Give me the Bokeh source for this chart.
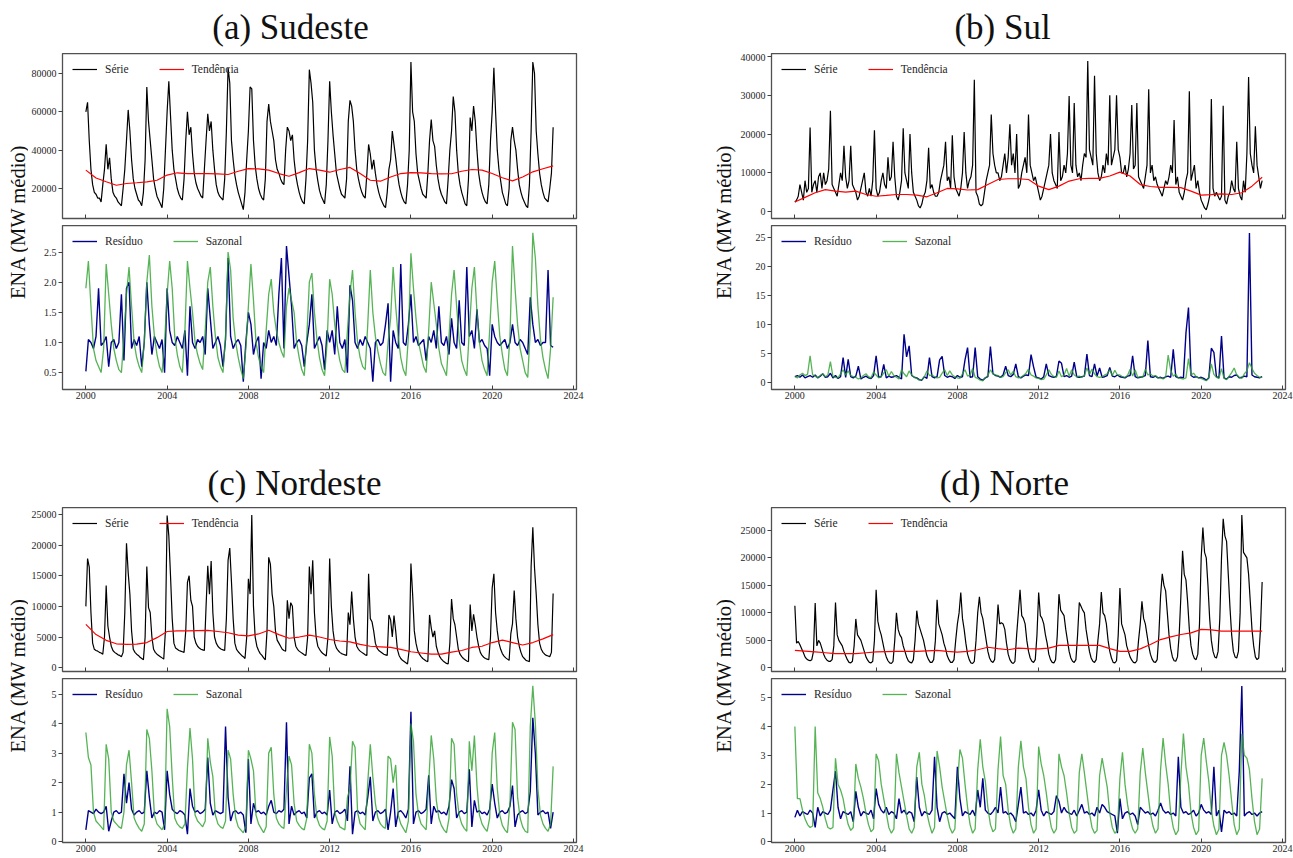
import math
import numpy as np
from bokeh.plotting import figure
from bokeh.layouts import row, column
from bokeh.models import (Range1d, FixedTicker, Label, Legend, LegendItem, Spacer,
                          BasicTickFormatter, NumeralTickFormatter)
from bokeh.embed import file_html
from bokeh.resources import INLINE

# ---------------------------------------------------------------- data
years = list(range(2000, 2023))
t_month = [y + m / 12 for y in years for m in range(12)] + [2023.0]   # série grid
t = [y + k / 8 for y in years for k in range(8)] + [2023.0]           # resíduo / sazonal grid
t_trend = [2000 + 0.5 * i for i in range(47)]                         # tendência grid
x_ticks = [2000, 2004, 2008, 2012, 2016, 2020, 2024]

titles = ["(a) Sudeste", "(b) Sul", "(c) Nordeste", "(d) Norte"]
y_label = "ENA (MW médio)"
legend_top = ["Série", "Tendência"]
legend_bottom = ["Resíduo", "Sazonal"]

# ---- Sudeste (série / tendência in thousand MW, série monthly Jan..Dec)
se_serie_k = [
    60, 65, 45, 30, 22, 18, 17, 15, 15, 13, 22, 30,
    43, 30, 36, 25, 18, 16, 15, 13, 12, 11, 20, 30,
    45, 61, 50, 35, 25, 20, 17, 14, 13, 11, 18, 35,
    73, 55, 45, 35, 25, 20, 16, 14, 12, 10, 20, 40,
    60, 76, 58, 40, 30, 25, 20, 17, 15, 14, 25, 45,
    60, 48, 52, 38, 28, 23, 20, 18, 16, 15, 30, 45,
    59, 50, 55, 40, 30, 22, 18, 16, 15, 14, 25, 50,
    83, 75, 45, 35, 27, 22, 18, 15, 12, 9, 18, 35,
    50, 73, 72, 45, 32, 25, 20, 17, 15, 14, 25, 55,
    64, 55, 50, 45, 35, 30, 28, 25, 23, 22, 40, 52,
    50, 45, 48, 35, 27, 22, 18, 15, 13, 12, 25, 45,
    82, 75, 65, 40, 30, 24, 19, 16, 14, 12, 22, 45,
    76, 60, 48, 38, 28, 24, 20, 17, 16, 15, 25, 55,
    66, 63, 55, 40, 30, 25, 21, 18, 16, 15, 28, 43,
    38, 30, 35, 28, 22, 18, 15, 13, 11, 10, 18, 30,
    35, 50, 43, 36, 28, 22, 18, 15, 13, 12, 22, 40,
    86, 60, 55, 38, 28, 24, 20, 17, 16, 15, 28, 45,
    56, 45, 42, 32, 25, 20, 17, 15, 13, 12, 25, 40,
    50, 68, 60, 40, 28, 22, 18, 15, 12, 11, 25, 57,
    50, 63, 55, 40, 28, 22, 18, 15, 13, 12, 22, 45,
    60, 83, 60, 40, 30, 24, 18, 15, 12, 11, 20, 45,
    52, 45, 40, 30, 22, 18, 15, 13, 11, 10, 22, 50,
    86, 80, 50, 38, 28, 22, 18, 15, 14, 13, 20, 28,
    52]
se_trend_k = [
    29.6, 25.5, 23.5, 21.7, 22.6, 23.0, 23.5, 24.3, 27.0, 28.2,
    27.8, 27.8, 27.8, 27.6, 27.3, 29.0, 30.4, 30.2, 29.6, 27.8,
    26.4, 28.3, 30.4, 29.6, 28.5, 29.9, 31.0, 27.8, 24.3, 23.8,
    26.0, 27.8, 28.3, 28.2, 27.8, 27.6, 27.7, 29.0, 29.9, 29.6,
    27.8, 25.6, 24.0, 26.0, 28.7, 30.3, 31.8]
se_resid = [
    0.52, 1.05, 1.0, 0.9, 1.1, 1.9, 0.95, 1.0,
    1.1, 0.6, 1.0, 1.05, 0.9, 1.0, 1.8, 0.7,
    1.9, 2.0, 0.9, 1.05, 0.95, 1.1, 0.6, 1.0,
    2.0, 1.3, 0.8, 1.1, 1.0, 0.9, 1.05, 0.5,
    1.9, 1.2, 1.0, 0.95, 1.1, 1.0, 0.9, 1.2,
    0.45, 1.6, 1.0, 0.9, 1.05, 1.0, 1.1, 0.8,
    1.9, 1.4, 0.9, 1.0, 1.1, 0.95, 0.6, 1.05,
    2.4, 1.1, 0.9, 1.0, 1.05, 0.95, 0.35, 1.0,
    1.5, 1.3, 0.8, 1.0, 1.1, 0.4, 1.0, 0.9,
    1.2, 1.0, 1.1, 0.95, 1.8, 2.4, 0.9, 2.6,
    2.1, 1.6, 0.9, 1.0, 1.05, 0.95, 0.6, 1.0,
    1.3, 1.8, 0.9, 1.0, 1.1, 0.95, 0.55, 1.2,
    1.0, 1.2, 0.8, 1.6, 1.0, 0.9, 1.05, 0.5,
    1.95, 1.7, 1.0, 0.9, 1.05, 0.95, 1.1, 1.0,
    0.9, 0.35, 1.0, 1.05, 0.95, 1.0, 1.3, 1.65,
    0.35, 1.2, 1.0, 0.9, 2.3, 1.0, 0.95, 1.3,
    1.8, 1.0, 1.1, 0.95, 1.0, 1.05, 0.7, 1.1,
    1.0, 1.2, 0.9, 1.6, 1.0, 0.95, 1.1, 0.8,
    1.4, 1.0, 0.9, 1.7, 1.0, 0.95, 2.25, 1.1,
    1.2, 0.9, 1.55, 1.0, 1.05, 0.95, 0.9, 0.45,
    1.3, 1.1, 1.0, 0.95, 1.0, 1.05, 0.9, 1.0,
    1.3, 1.0, 0.95, 1.05, 1.0, 0.9, 0.8, 1.75,
    1.3, 1.0, 1.05, 0.95, 1.0, 1.0, 2.2, 0.95,
    0.92]
se_sazonal = [
    1.9, 2.35, 1.6, 0.9, 0.7, 0.6, 0.5, 0.9,
    2.3, 1.8, 1.3, 0.9, 0.7, 0.55, 0.5, 1.1,
    1.8, 2.25, 1.6, 1.0, 0.75, 0.6, 0.5, 1.0,
    2.0, 2.45, 1.6, 1.1, 0.8, 0.6, 0.5, 1.0,
    1.8, 2.35, 1.9, 1.1, 0.8, 0.6, 0.5, 1.2,
    2.35, 1.9, 1.5, 1.0, 0.8, 0.65, 0.55, 1.2,
    2.0, 2.25, 1.6, 1.1, 0.75, 0.6, 0.5, 1.1,
    2.5, 2.2, 1.4, 1.0, 0.75, 0.55, 0.4, 0.9,
    1.6, 2.3, 1.7, 1.0, 0.75, 0.6, 0.5, 1.2,
    1.8, 2.05, 1.5, 1.2, 1.0, 0.85, 0.75, 1.6,
    1.9, 1.7, 1.5, 1.0, 0.75, 0.55, 0.45, 1.1,
    2.0, 2.15, 1.5, 1.05, 0.75, 0.55, 0.45, 1.0,
    2.05, 1.8, 1.3, 0.95, 0.7, 0.55, 0.5, 1.2,
    1.8, 2.2, 1.5, 1.0, 0.75, 0.6, 0.55, 1.3,
    2.2, 1.5, 1.1, 0.85, 0.65, 0.5, 0.45, 1.0,
    1.4, 2.25, 1.6, 1.1, 0.75, 0.55, 0.45, 1.1,
    2.48, 1.9, 1.4, 1.0, 0.8, 0.6, 0.5, 1.2,
    2.0, 1.65, 1.3, 0.9, 0.65, 0.55, 0.45, 1.1,
    1.8, 2.2, 1.6, 1.05, 0.7, 0.55, 0.45, 1.2,
    1.9, 2.25, 1.5, 1.0, 0.7, 0.55, 0.45, 1.2,
    2.0, 2.35, 1.7, 1.1, 0.8, 0.55, 0.45, 1.1,
    2.6, 1.9, 1.3, 0.9, 0.7, 0.5, 0.42, 1.2,
    2.82, 2.4, 1.6, 1.05, 0.75, 0.55, 0.4, 0.9,
    1.75]

# ---- Sul
s_serie_k = [
    2.5, 3, 4, 7, 5, 3, 8, 5, 6, 21.7, 5, 7,
    8, 5, 9, 10, 6, 10, 7, 8, 11, 26, 7, 6,
    5, 4, 7, 10, 8, 17, 9, 6, 8, 17, 7, 6,
    5, 3, 4, 6, 8, 10, 5, 4, 6, 4, 8, 21,
    6, 4, 5, 8, 10, 7, 6, 14, 8, 9, 18, 9,
    4, 3, 5, 8, 21.5, 10, 8, 6, 20, 10, 5, 4,
    3, 1.5, 1, 2, 4, 5, 8, 16.5, 6, 7, 5, 4,
    4, 5, 8, 10, 12, 18, 8, 9, 6, 19.7, 9, 6,
    5, 4, 6, 10, 20.5, 10, 6, 8, 9, 12, 34, 5,
    4, 2, 1.5, 2, 5, 8, 10, 12, 25, 15, 12, 10,
    10, 8, 9, 12, 15, 10, 14, 22.5, 12, 15, 10, 20,
    6, 7, 10, 12, 14, 10, 25, 12, 10, 8, 9, 7,
    5, 3, 4, 6, 8, 10, 12, 20, 10, 8, 7, 6,
    20.5, 8, 9, 12, 10, 15, 29.8, 12, 10, 28, 12, 9,
    10, 8, 12, 15, 14, 38.8, 16, 14, 12, 35, 15, 10,
    8, 9, 12, 10, 15, 12, 30, 12, 14, 16, 30, 16,
    14, 10, 10, 12, 9, 11, 15, 27.5, 11, 12, 28, 9,
    8, 7, 6, 9, 12, 31.5, 10, 12, 8, 9, 7, 6,
    5, 4, 6, 8, 7, 9, 12, 10, 23.6, 7, 9, 5,
    4, 3, 5, 8, 10, 31, 8, 10, 12, 6, 8, 5,
    3, 2, 1, 0.5, 2, 4, 29, 6, 4, 5, 4, 3,
    4, 27.3, 3, 2, 4, 5, 8, 6, 5, 18, 6, 4,
    3, 8, 5, 15, 34.7, 15, 12, 10, 22, 12, 9, 6,
    8]
s_trend_k = [
    2.5, 3.7, 4.9, 5.7, 5.3, 5.05, 5.3, 4.45, 4.0, 4.2,
    4.45, 4.45, 4.3, 3.85, 4.9, 6.0, 5.9, 5.6, 5.7, 7.0,
    8.3, 8.5, 8.5, 8.3, 6.6, 5.7, 6.6, 7.9, 8.5, 8.6,
    8.6, 9.2, 10.2, 9.2, 7.0, 6.5, 6.3, 6.3, 6.2, 5.3,
    4.3, 4.4, 4.6, 4.45, 4.9, 6.6, 8.9]
s_resid = [
    1.0, 1.2, 0.9, 1.3, 0.8, 1.0, 1.2, 0.9,
    1.3, 0.8, 1.1, 1.5, 0.9, 1.0, 1.6, 0.8,
    1.2, 0.7, 1.0, 4.3, 0.9, 4.0, 1.0, 0.8,
    1.1, 2.8, 0.6, 0.9, 1.1, 0.8, 0.7, 1.2,
    4.6, 0.9, 1.0, 3.1, 0.8, 1.1, 0.9, 1.0,
    1.2, 0.9, 0.6, 8.3, 4.4, 6.3, 1.2, 0.9,
    0.8, 0.5, 0.4, 1.0, 0.7, 4.3, 1.0, 0.8,
    1.0, 3.9, 4.5, 1.2, 0.9, 1.1, 1.0, 0.7,
    1.2, 0.9, 1.0, 3.9, 6.0, 0.9, 1.0, 6.0,
    1.0, 0.6, 0.4, 0.8, 1.0, 6.2, 1.5, 1.2,
    1.1, 0.9, 1.3, 2.8, 1.2, 1.0, 1.4, 3.2,
    1.0, 0.8, 1.1, 1.3, 1.2, 4.8, 2.7, 0.9,
    0.8, 0.6, 1.0, 3.2, 1.2, 1.0, 0.9, 1.1,
    3.7, 3.3, 1.0, 1.2, 0.9, 1.1, 3.5, 1.0,
    0.9, 1.0, 1.1, 4.9, 1.2, 1.0, 3.2, 1.1,
    2.5, 0.9, 1.0, 1.2, 2.6, 1.1, 1.0, 1.3,
    1.0, 0.9, 0.8, 1.1, 1.2, 4.6, 1.0, 0.8,
    0.9, 1.0, 1.2, 7.2, 1.0, 0.9, 1.1, 0.8,
    0.9, 0.7, 1.0, 1.1, 0.9, 5.7, 1.0, 0.8,
    0.9, 0.8, 8.5, 12.9, 1.2, 0.9, 1.0, 0.8,
    0.9, 0.7, 0.4, 0.8, 5.9, 5.2, 1.0, 0.8,
    8.0, 0.8, 0.6, 1.0, 0.9, 1.2, 1.3, 0.8,
    0.9, 1.1, 1.0, 25.7, 1.3, 1.0, 0.9, 0.8,
    1.0]
s_sazonal = [
    1.0, 0.8, 1.3, 1.6, 1.2, 1.4, 4.6, 1.3,
    1.1, 0.8, 1.2, 1.5, 1.0, 1.3, 3.6, 1.0,
    0.9, 0.8, 1.5, 2.2, 1.3, 2.0, 1.2, 1.0,
    0.9, 0.6, 0.8, 1.2, 1.5, 1.0, 0.8, 1.8,
    1.3, 0.8, 1.0, 1.6, 2.2, 1.1, 1.9, 1.2,
    0.9, 0.6, 2.2, 1.5, 1.0, 2.0, 1.3, 0.9,
    0.7, 0.4, 0.5, 1.0, 2.0, 1.2, 1.3, 1.0,
    0.8, 0.9, 1.6, 2.2, 1.2, 2.0, 1.3, 1.0,
    0.8, 0.7, 1.5, 2.2, 1.1, 1.3, 2.4, 0.9,
    0.7, 0.4, 0.3, 0.8, 1.2, 2.2, 1.5, 1.3,
    1.2, 0.9, 1.0, 1.7, 2.2, 1.3, 1.9, 1.0,
    0.8, 0.9, 1.2, 1.6, 2.3, 1.3, 1.1, 0.8,
    0.7, 0.5, 0.6, 1.3, 2.2, 1.4, 1.0, 0.9,
    2.0, 1.0, 1.3, 2.4, 1.1, 2.2, 1.3, 1.0,
    1.1, 0.9, 1.2, 2.5, 1.4, 2.3, 1.5, 1.0,
    0.9, 1.0, 1.3, 1.5, 2.2, 1.2, 2.1, 1.3,
    1.3, 1.0, 0.9, 1.2, 2.3, 1.1, 2.2, 0.9,
    1.0, 0.9, 2.3, 1.3, 1.5, 1.1, 1.2, 0.8,
    0.8, 0.6, 0.9, 4.7, 2.1, 1.1, 1.4, 0.8,
    0.7, 0.6, 0.8, 4.1, 1.3, 1.6, 1.0, 0.8,
    0.7, 0.5, 0.3, 0.9, 3.2, 1.4, 0.9, 0.7,
    2.4, 0.7, 0.5, 1.1, 1.7, 2.5, 1.3, 0.9,
    0.7, 1.5, 2.0, 3.4, 2.4, 1.6, 1.2, 0.9,
    0.9]

# ---- Nordeste
ne_serie_k = [
    10, 17.8, 16.4, 9, 4, 3, 2.8, 2.7, 2.5, 2.4, 2.2, 5,
    13.4, 6.8, 5, 3.5, 2.8, 2.5, 2.3, 2.1, 2.0, 1.8, 2.5, 9,
    20.3, 15.5, 12, 6, 3, 2.5, 2.2, 2, 1.7, 1.5, 1.3, 5,
    16.5, 9.8, 9, 5, 3, 2.5, 2.2, 2, 1.8, 1.6, 1.4, 6,
    24.8, 21.5, 15, 8, 4, 3.2, 3, 2.8, 2.7, 2.6, 2.5, 6,
    13.9, 15, 11, 10, 5, 4, 3.5, 3.2, 3, 2.9, 2.8, 10,
    16.6, 12, 17.4, 9, 5, 4, 3.5, 3.2, 3, 2.9, 2.8, 8,
    17.5, 19.5, 14, 8, 4, 3, 2.6, 2.3, 2, 1.8, 1.5, 5,
    14.5, 12, 24.9, 10, 5, 3.5, 2.8, 2.3, 2, 1.6, 1.3, 6,
    18, 16.9, 12, 10, 6, 4.5, 4, 3.5, 3, 2.8, 2.7, 11,
    8, 10.6, 10, 5, 3.5, 3, 2.7, 2.5, 2.3, 2.1, 2, 5,
    16.5, 12, 17.5, 9, 5, 3.5, 3, 2.6, 2.3, 2.1, 1.9, 5,
    17.8, 10, 6, 4, 3.2, 2.8, 2.5, 2.3, 2.2, 2.1, 2, 9,
    7, 12.4, 8, 5, 3.5, 3, 2.7, 2.5, 2.3, 2.1, 2, 15.3,
    8, 7.5, 6, 4, 3.2, 2.8, 2.6, 2.4, 2.2, 2.1, 2, 8.6,
    7.8, 5, 8.5, 6, 3, 2, 1.5, 1.2, 1, 0.8, 0.6, 3,
    17, 12, 6, 4, 2.8, 2.2, 1.8, 1.5, 1.3, 1.1, 1, 8.6,
    6.5, 5, 6, 3.5, 2.5, 1.8, 1.4, 1.1, 0.9, 0.7, 0.6, 4,
    11.2, 8, 7, 5, 3, 2.2, 1.8, 1.5, 1.3, 1.1, 1, 10.3,
    6, 8.7, 7, 5, 3.5, 2.5, 2, 1.7, 1.5, 1.4, 1.3, 5,
    13, 15.3, 9, 6, 4, 3, 2.3, 1.9, 1.6, 1.4, 1.2, 5.5,
    7.2, 12.6, 8, 5, 3.5, 2.5, 1.8, 1.5, 1.2, 1.1, 1, 16.5,
    22.9, 16.3, 12, 7, 4, 3, 2.5, 2.2, 2, 1.9, 1.8, 2.5,
    12.1]
ne_trend_k = [
    7.07, 5.4, 4.46, 3.9, 3.8, 3.85, 4.1, 4.9, 5.9, 6.0,
    6.0, 6.05, 6.1, 5.9, 5.7, 5.3, 5.2, 5.5, 6.1, 5.4,
    4.8, 5.0, 5.3, 5.0, 4.6, 4.35, 4.2, 3.8, 3.5, 3.4,
    3.3, 3.0, 2.6, 2.4, 2.2, 2.2, 2.55, 2.8, 3.3, 3.5,
    4.1, 4.5, 4.1, 3.7, 4.1, 4.7, 5.4]
ne_resid = [
    0.4, 1.05, 1.0, 0.95, 1.1, 1.0, 0.95, 1.0,
    1.2, 0.35, 0.7, 1.0, 1.05, 0.95, 1.0, 2.3,
    1.3, 2.0, 1.1, 0.9, 1.0, 1.05, 0.95, 1.0,
    2.4, 1.5, 0.8, 1.0, 0.95, 1.05, 1.0, 0.4,
    2.4, 1.6, 1.1, 1.0, 0.95, 1.05, 1.0, 0.9,
    0.25, 1.8, 1.2, 1.0, 1.05, 0.95, 1.0, 1.1,
    2.85, 1.3, 0.9, 1.05, 1.0, 0.95, 1.0, 3.9,
    1.5, 0.7, 1.0, 1.05, 0.95, 1.0, 0.9, 0.3,
    2.8, 0.6, 1.3, 1.0, 1.05, 0.95, 1.0, 0.9,
    1.2, 1.4, 1.0, 0.95, 1.05, 1.0, 1.1, 4.05,
    0.6, 1.2, 0.9, 1.0, 1.05, 0.95, 1.0, 0.8,
    2.15, 2.3, 0.8, 1.0, 1.05, 0.95, 1.0, 0.9,
    1.75, 0.6, 1.0, 1.05, 0.95, 1.0, 1.1, 0.7,
    2.55, 0.25, 1.0, 1.05, 0.95, 1.0, 0.9, 1.5,
    2.2, 0.7, 1.0, 1.05, 0.95, 1.0, 1.1, 0.4,
    1.0, 1.8, 0.5, 1.0, 1.05, 0.95, 0.8, 1.1,
    4.4, 0.6, 1.0, 1.05, 0.95, 1.0, 1.1, 2.25,
    0.6, 1.2, 1.0, 1.05, 0.95, 1.0, 0.9, 1.2,
    2.1, 1.8, 0.8, 1.0, 1.05, 0.95, 1.0, 2.45,
    0.5, 1.4, 1.0, 1.05, 0.95, 1.0, 0.9, 1.1,
    1.95, 1.3, 0.8, 1.0, 1.05, 0.95, 1.0, 1.2,
    1.9, 0.5, 0.9, 1.0, 1.05, 0.95, 1.0, 1.7,
    4.2, 3.0, 0.9, 1.0, 1.05, 0.95, 1.0, 0.45,
    1.0]
ne_sazonal = [
    3.7, 2.85, 2.6, 1.0, 0.7, 0.6, 0.5, 0.4,
    3.3, 2.8, 1.0, 0.7, 0.6, 0.5, 0.45, 1.0,
    2.6, 3.1, 2.0, 0.8, 0.6, 0.45, 0.35, 0.6,
    3.8, 3.5, 2.4, 0.9, 0.6, 0.5, 0.4, 0.6,
    4.5, 3.9, 2.2, 0.8, 0.6, 0.5, 0.45, 0.6,
    2.5, 3.85, 2.8, 0.9, 0.7, 0.6, 0.5, 0.7,
    3.5, 2.7, 2.2, 0.9, 0.6, 0.5, 0.45, 0.7,
    3.1, 2.8, 1.6, 0.8, 0.5, 0.4, 0.3, 0.5,
    3.1, 2.8, 2.4, 0.9, 0.6, 0.45, 0.3, 0.5,
    3.0, 3.2, 1.6, 0.8, 0.6, 0.5, 0.45, 1.8,
    2.9, 2.6, 1.3, 0.7, 0.55, 0.45, 0.4, 0.8,
    3.3, 3.0, 1.6, 0.8, 0.55, 0.45, 0.4, 0.7,
    3.55, 2.9, 1.0, 0.7, 0.5, 0.45, 0.4, 1.5,
    1.8, 3.4, 3.2, 1.0, 0.6, 0.5, 0.4, 2.0,
    3.3, 2.2, 1.3, 0.8, 0.6, 0.5, 0.45, 2.9,
    2.8, 2.0, 2.6, 0.9, 0.6, 0.45, 0.3, 0.7,
    4.0, 3.4, 1.6, 0.9, 0.6, 0.5, 0.4, 2.0,
    3.6, 2.8, 1.4, 0.8, 0.55, 0.4, 0.3, 0.8,
    3.5, 3.3, 1.6, 0.9, 0.6, 0.45, 0.35, 3.4,
    2.4, 3.6, 1.9, 0.9, 0.6, 0.45, 0.35, 0.8,
    3.0, 3.7, 1.8, 0.9, 0.55, 0.4, 0.3, 1.3,
    4.05, 3.8, 1.5, 0.8, 0.5, 0.35, 0.3, 3.9,
    5.28, 4.0, 1.8, 0.9, 0.6, 0.45, 0.35, 0.6,
    2.55]

# ---- Norte
n_serie_k = [
    11.3, 4.5, 4.8, 4.2, 3.5, 2.8, 2.0, 1.6, 1.4, 1.3, 1.5, 3,
    11.8, 4, 5, 4.5, 3.5, 2.5, 1.8, 1.4, 1.2, 1.2, 1.5, 4,
    11.9, 6, 5, 4.5, 4, 3, 2.2, 1.5, 1.0, 0.9, 1.2, 4,
    8.9, 6, 5.5, 5, 4, 3, 2, 1.4, 1.0, 0.9, 1.2, 5,
    14.2, 8.5, 7, 6, 4.5, 3, 2, 1.3, 0.9, 0.8, 1.2, 5,
    10, 7, 6, 5.5, 4, 3, 2, 1.3, 1.0, 0.9, 1.5, 5,
    10.4, 8, 7, 6, 5, 3.5, 2.2, 1.5, 1.0, 1.0, 1.5, 5,
    12.4, 8, 7, 6, 4.5, 3.5, 2.2, 1.5, 1.0, 1.0, 1.5, 5,
    8, 10, 13.7, 9, 7, 4.5, 2.5, 1.5, 0.9, 0.8, 1.2, 5,
    10, 12.9, 10, 9, 7, 5, 3, 1.8, 1.2, 1.0, 1.5, 6,
    11.5, 8, 8.2, 8, 7, 4.5, 2.5, 1.5, 1.0, 0.8, 1.2, 6,
    10, 14.2, 9.5, 9, 8, 5, 3, 1.8, 1.2, 1.0, 1.5, 6,
    13.7, 9.5, 9, 8, 6, 4.5, 2.5, 1.5, 1.0, 0.9, 1.5, 6,
    13.4, 10.5, 10, 9.5, 7, 5, 3, 1.8, 1.2, 1.0, 1.5, 6,
    11.9, 11.2, 10.5, 10, 7, 5, 3, 1.8, 1.2, 1.0, 1.5, 5,
    8, 13.8, 10, 9.5, 8, 5, 3, 1.8, 1.0, 0.9, 1.3, 6,
    14.5, 8, 7, 6, 4, 3, 2, 1.4, 1.0, 0.9, 1.3, 5,
    8, 12.1, 9, 8, 6, 4, 2.5, 1.6, 1.1, 1.0, 1.5, 6,
    13, 17.1, 15, 14, 10, 6, 3.5, 2, 1.3, 1.2, 2, 6,
    13, 21.3, 17, 16, 12, 7, 4, 2.5, 1.7, 1.5, 2.5, 8,
    20, 25.5, 21, 20, 15, 9, 5, 3, 2, 1.8, 3, 9,
    20, 27.1, 24, 23, 17, 11, 6, 3, 2, 1.8, 3, 10,
    27.8, 21, 20.5, 20, 17, 12, 7, 4, 2, 1.5, 1.8, 7,
    15.6]
n_trend_k = [
    3.2, 3.05, 2.9, 2.75, 2.6, 2.6, 2.6, 2.75, 2.9, 2.95,
    3.0, 3.0, 3.0, 3.1, 3.2, 3.0, 2.85, 3.0, 3.3, 3.75,
    3.5, 3.3, 3.6, 3.5, 3.45, 3.6, 4.1, 4.1, 4.1, 4.1,
    4.1, 3.5, 3.0, 3.0, 3.45, 4.25, 5.15, 5.65, 6.07, 6.37,
    7.0, 6.9, 6.7, 6.7, 6.7, 6.7, 6.7]
n_resid = [
    0.85, 1.1, 0.9, 1.05, 1.0, 0.95, 1.1, 1.0,
    0.5, 1.2, 0.9, 1.05, 1.0, 0.95, 1.1, 1.8,
    2.45, 1.2, 0.8, 1.05, 1.0, 0.95, 1.05, 0.7,
    1.75, 1.2, 0.9, 1.05, 1.0, 0.95, 1.1, 0.8,
    1.85, 1.3, 1.1, 1.0, 1.2, 0.95, 1.05, 1.0,
    0.8, 1.5, 1.0, 1.1, 0.95, 1.05, 1.0, 0.7,
    2.25, 1.2, 0.9, 1.05, 1.0, 0.95, 1.1, 2.95,
    1.2, 0.7, 1.0, 1.05, 0.95, 1.0, 0.9, 0.8,
    2.6, 1.5, 0.9, 1.05, 1.0, 0.95, 1.1, 0.9,
    1.8, 1.2, 2.2, 1.1, 1.0, 0.95, 1.05, 1.2,
    1.0, 1.9, 1.0, 1.05, 0.95, 1.0, 0.9, 0.7,
    1.3, 1.9, 1.0, 1.05, 0.95, 1.0, 0.9, 1.1,
    1.8, 1.1, 0.9, 1.05, 1.0, 0.95, 1.05, 1.6,
    1.4, 1.0, 1.2, 1.05, 1.0, 0.95, 1.1, 0.9,
    1.1, 1.3, 1.0, 1.05, 0.95, 1.0, 0.9, 1.2,
    1.0, 1.3, 1.2, 1.05, 1.0, 0.95, 0.9, 0.3,
    1.5, 0.8, 1.0, 1.05, 0.95, 1.0, 0.9, 0.6,
    1.2, 1.1, 1.0, 1.05, 0.95, 1.0, 0.9, 1.1,
    1.35, 1.1, 1.0, 1.05, 0.95, 1.0, 0.9, 2.95,
    1.2, 1.0, 1.05, 0.95, 1.0, 1.1, 0.9, 1.0,
    1.3, 1.1, 1.0, 1.05, 0.95, 2.6, 0.9, 1.1,
    0.35, 1.1, 1.0, 1.05, 0.95, 1.0, 0.9, 2.45,
    5.4, 0.9, 1.0, 1.05, 0.95, 1.0, 0.9, 1.0,
    1.05]
n_sazonal = [
    4.0, 1.5, 1.5, 1.1, 0.8, 0.6, 0.5, 0.55,
    4.0, 1.7, 1.5, 1.2, 0.8, 0.5, 0.45, 0.5,
    2.9, 2.0, 1.8, 1.5, 1.0, 0.6, 0.4, 0.5,
    2.7, 2.2, 1.9, 1.5, 1.0, 0.6, 0.35, 0.45,
    3.05, 2.8, 2.0, 1.5, 1.0, 0.5, 0.3, 0.45,
    3.05, 2.4, 1.9, 1.4, 0.9, 0.45, 0.3, 0.5,
    2.6, 3.1, 2.0, 1.6, 1.0, 0.6, 0.3, 0.5,
    3.15, 2.6, 1.9, 1.4, 0.9, 0.5, 0.3, 0.45,
    2.0, 3.2, 2.9, 2.0, 1.2, 0.6, 0.3, 0.45,
    2.5, 3.55, 2.6, 2.1, 1.2, 0.6, 0.35, 0.45,
    2.5, 3.65, 2.3, 2.0, 1.1, 0.55, 0.3, 0.45,
    2.6, 3.5, 2.6, 2.2, 1.2, 0.6, 0.3, 0.45,
    3.3, 2.7, 2.3, 1.7, 1.0, 0.5, 0.3, 0.45,
    3.05, 2.6, 2.3, 1.7, 1.0, 0.5, 0.3, 0.4,
    2.4, 3.05, 2.4, 1.7, 1.0, 0.5, 0.3, 0.4,
    2.3, 2.9, 2.4, 1.9, 1.0, 0.5, 0.3, 0.4,
    2.2, 3.1, 2.0, 1.3, 0.8, 0.45, 0.3, 0.45,
    2.4, 3.25, 2.4, 1.7, 1.0, 0.55, 0.3, 0.45,
    2.5, 3.6, 2.7, 2.0, 1.0, 0.5, 0.25, 0.4,
    2.3, 3.75, 2.6, 2.0, 1.0, 0.5, 0.25, 0.4,
    3.0, 3.6, 2.8, 2.1, 1.1, 0.55, 0.25, 0.45,
    3.0, 3.45, 3.0, 2.3, 1.4, 0.6, 0.25, 0.45,
    3.75, 3.0, 2.9, 2.5, 1.5, 0.7, 0.25, 0.45,
    2.2]

# ---------------------------------------------------------------- style
FONT = "Liberation Serif"
FRAME_W = 514
OUTLINE = "#505050"
TICK_COLOR = "#404040"
LABEL_COLOR = "#262626"
X_RANGE = (1998.85, 2024.15)


def style_axes(p, show_x_labels, yticks, yfmt):
    p.grid.visible = False
    p.outline_line_color = OUTLINE
    p.outline_line_width = 1.3
    p.background_fill_color = "white"
    p.border_fill_color = "white"
    xa = p.xaxis[0]
    xa.ticker = FixedTicker(ticks=x_ticks)
    xa.formatter = BasicTickFormatter(use_scientific=False)
    xa.axis_line_color = None
    xa.major_tick_in = 4
    xa.major_tick_out = 0
    xa.minor_tick_line_color = None
    xa.major_tick_line_color = TICK_COLOR
    xa.major_label_text_font = FONT
    xa.major_label_text_font_size = "10px"
    xa.major_label_text_color = LABEL_COLOR
    xa.major_label_standoff = 2
    if not show_x_labels:
        xa.major_label_overrides = {v: "" for v in x_ticks}
        xa.major_label_text_font_size = "0px"
        xa.major_label_standoff = 0
    ya = p.yaxis[0]
    ya.ticker = FixedTicker(ticks=yticks)
    ya.formatter = NumeralTickFormatter(format=yfmt)
    ya.axis_line_color = None
    ya.major_tick_in = 0
    ya.major_tick_out = 4
    ya.minor_tick_line_color = None
    ya.major_tick_line_color = TICK_COLOR
    ya.major_label_text_font = FONT
    ya.major_label_text_font_size = "10px"
    ya.major_label_text_color = LABEL_COLOR
    ya.major_label_standoff = 2


def add_legend(p, labels, renderers):
    leg = Legend(items=[LegendItem(label=l, renderers=[r]) for l, r in zip(labels, renderers)],
                 orientation="horizontal", location="top_left",
                 margin=4, padding=6, spacing=30, label_standoff=8,
                 glyph_width=25, glyph_height=12, label_height=12,
                 label_text_font=FONT, label_text_font_size="11.5px",
                 label_text_color=LABEL_COLOR,
                 border_line_alpha=0, background_fill_alpha=0)
    p.add_layout(leg)


def blank(w, h):
    p = figure(frame_width=w, frame_height=h, x_range=Range1d(0, w), y_range=Range1d(0, h),
               min_border=0, x_axis_location=None, y_axis_location=None,
               toolbar_location=None, output_backend="svg")
    p.outline_line_color = None
    p.grid.visible = False
    p.background_fill_color = "white"
    p.border_fill_color = "white"
    return p


def make_panel(title, title_x, title_h, title_y, ylab_x, serie_k, trend_k, resid, saz,
               top_rng, bot_rng, top_ticks, bot_ticks, bot_fmt,
               right_border, fh_top, fh_bot, bot_border):
    serie = np.array(serie_k) * 1000.0
    trend = np.array(trend_k) * 1000.0

    top = figure(frame_width=FRAME_W, frame_height=fh_top,
                 x_range=Range1d(*X_RANGE), y_range=Range1d(*top_rng),
                 min_border_left=32, min_border_right=right_border,
                 min_border_top=0, min_border_bottom=7,
                 toolbar_location=None, output_backend="svg")
    r1 = top.line(t_month, serie, line_color="black", line_width=1.2)
    r2 = top.line(t_trend, trend, line_color="red", line_width=1.2)
    style_axes(top, False, top_ticks, "0")
    add_legend(top, legend_top, [r1, r2])

    bot = figure(frame_width=FRAME_W, frame_height=fh_bot,
                 x_range=Range1d(*X_RANGE), y_range=Range1d(*bot_rng),
                 min_border_left=32, min_border_right=right_border,
                 min_border_top=0, min_border_bottom=bot_border,
                 toolbar_location=None, output_backend="svg")
    r3 = bot.line(t, resid, line_color="#00008b", line_width=1.4)
    r4 = bot.line(t, saz, line_color="#2ca02c", line_alpha=0.8, line_width=1.3)
    style_axes(bot, True, bot_ticks, bot_fmt)
    add_legend(bot, legend_bottom, [r3, r4])

    h_total = fh_top + 7 + fh_bot + bot_border
    ylab = blank(28, h_total)
    ylab.add_layout(Label(x=ylab_x, y=h_total - (fh_top + 7 + fh_bot) / 2.0,
                          text=y_label, angle=math.pi / 2,
                          text_align="center", text_baseline="middle",
                          text_font=FONT, text_font_size="20.5px",
                          text_color="#111111"))

    full_w = 28 + 32 + FRAME_W + right_border
    tfig = blank(full_w, title_h)
    tfig.add_layout(Label(x=title_x, y=title_y, text=title,
                          text_align="center", text_baseline="middle",
                          text_font=FONT, text_font_size="35px",
                          text_color="#111111"))
    return column(tfig, row(ylab, column(top, bot)))


pA = make_panel(titles[0], 290, 53, 26, 17.5, se_serie_k, se_trend_k, se_resid, se_sazonal,
                (4350, 90430), (0.22, 2.94),
                [20000, 40000, 60000, 80000], [0.5, 1.0, 1.5, 2.0, 2.5], "0.0",
                133, 165, 164, 16)
pB = make_panel(titles[1], 293, 53, 26, 14, s_serie_k, s_trend_k, s_resid, s_sazonal,
                (-1730, 40730), (-1.2, 27.0),
                [0, 10000, 20000, 30000, 40000], [0, 5, 10, 15, 20, 25], "0",
                11, 165, 164, 16)
pC = make_panel(titles[2], 294, 50, 24, 17.5, ne_serie_k, ne_trend_k, ne_resid, ne_sazonal,
                (-620, 26120), (-0.03, 5.53),
                [0, 5000, 10000, 15000, 20000, 25000], [0, 1, 2, 3, 4, 5], "0",
                133, 164, 164, 15)
pD = make_panel(titles[3], 295, 50, 24, 14, n_serie_k, n_trend_k, n_resid, n_sazonal,
                (-655, 29155), (-0.02, 5.66),
                [0, 5000, 10000, 15000, 20000, 25000], [0, 1, 2, 3, 4, 5], "0",
                11, 164, 164, 15)

layout = column(row(pA, pB), Spacer(width=10, height=52), row(pC, pD))

open("out.html", "w").write(file_html(layout, INLINE))
